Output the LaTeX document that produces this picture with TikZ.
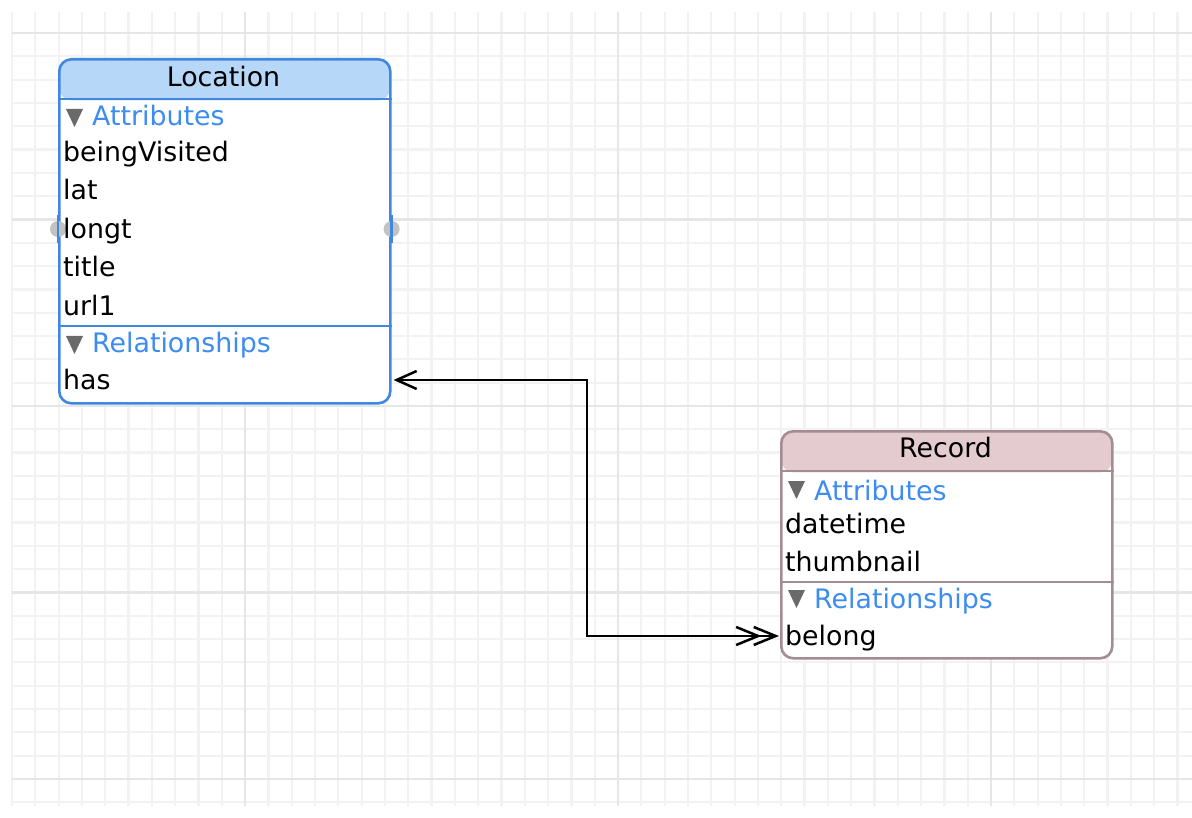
\documentclass[tikz,border=0pt]{standalone}
\usepackage{fontspec}
\setmainfont{DejaVu Sans}
\usetikzlibrary{arrows.meta}
\definecolor{gridminor}{HTML}{F2F2F2}
\definecolor{gridmajor}{HTML}{E6E6E6}
\definecolor{locborder}{HTML}{3F87DF}
\definecolor{lochead}{HTML}{B6D7F8}
\definecolor{recborder}{HTML}{A38C93}
\definecolor{rechead}{HTML}{E4CBD0}
\definecolor{sectext}{HTML}{3C8CF2}
\definecolor{trigray}{HTML}{6A6A6A}
\definecolor{handlegray}{HTML}{C2C2C2}
\begin{document}
\begin{tikzpicture}[x=1pt,y=-1pt,
  rowtext/.style={anchor=base west, inner sep=0pt, font=\fontsize{26.8}{30}\selectfont, text=black},
  sectitle/.style={rowtext, text=sectext},
  headtext/.style={anchor=base, inner sep=0pt, font=\fontsize{26.8}{30}\selectfont, text=black},
  entitybox/.style={draw=#1, fill=white, line width=2.6pt, rounded corners=12pt, inner sep=0pt, anchor=north west},
  sepline/.style={draw=#1, line width=2.4pt},
  tri/.style={fill=trigray},
  conn/.style={line width=2.5pt, black,
    {Straight Barb[length=20pt,width=18pt]}-{Straight Barb[length=22pt,width=18pt,sep=-9pt]Straight Barb[length=22pt,width=18pt]}}
]
\useasboundingbox (0,0) rectangle (1192,818);
\fill[white] (0,0) rectangle (1192,818);
% grid
\foreach \i in {0,...,50} {
  \pgfmathsetmacro\xx{12+23.31*\i}
  \draw[gridminor, line width=2.2pt] (\xx,12) -- (\xx,806);
}
\foreach \j in {0,...,33} {
  \pgfmathsetmacro\yy{33+23.31*\j}
  \draw[gridminor, line width=2.2pt] (12,\yy) -- (1192,\yy);
}
\foreach \i in {10,26,42} {
  \pgfmathsetmacro\xx{12+23.31*\i}
  \draw[gridmajor, line width=2.2pt] (\xx,12) -- (\xx,806);
}
\foreach \j in {0,8,16,24,32} {
  \pgfmathsetmacro\yy{33+23.31*\j}
  \draw[gridmajor, line width=2.2pt] (12,\yy) -- (1192,\yy);
}

% Location entity
\node[entitybox=locborder, minimum width=331pt, minimum height=344pt,
  path picture={\fill[lochead] (path picture bounding box.north west) rectangle ([yshift=-41pt]path picture bounding box.north east);}]
  (loc) at (58,58) {};
\draw[sepline=locborder] (loc.west |- 0,99) -- (loc.east |- 0,99);
\draw[sepline=locborder] (loc.west |- 0,326) -- (loc.east |- 0,326);
\fill[handlegray] (loc.west |- 0,229) circle (8pt);
\fill[handlegray] (loc.east |- 0,229) circle (8pt);
\draw[locborder, line width=2.6pt] (loc.north west |- 0,215) -- (loc.south west |- 0,243);
\draw[locborder, line width=2.6pt] (loc.north east |- 0,215) -- (loc.south east |- 0,243);
\node[headtext] (locTitle) at (223.5,87) {Location};
\fill[tri] (66,109) -- (83,109) -- (74.5,127) -- cycle;
\node[sectitle] (locAttr) at (92,126) {Attributes};
\node[rowtext] (locBeing) at (63,161.5) {beingVisited};
\node[rowtext] (locLat) at (63,200) {lat};
\node[rowtext] (locLongt) at (63,238.5) {longt};
\node[rowtext] (locTitleAttr) at (63,277) {title};
\node[rowtext] (locUrl) at (63,315.5) {url1};
\fill[tri] (66,336) -- (83,336) -- (74.5,354) -- cycle;
\node[sectitle] (locRel) at (92,353) {Relationships};
\node[rowtext] (locHas) at (63,390) {has};

% Record entity
\node[entitybox=recborder, minimum width=331pt, minimum height=227pt,
  path picture={\fill[rechead] (path picture bounding box.north west) rectangle ([yshift=-41pt]path picture bounding box.north east);}]
  (rec) at (780,430) {};
\draw[sepline=recborder] (rec.west |- 0,471) -- (rec.east |- 0,471);
\draw[sepline=recborder] (rec.west |- 0,582) -- (rec.east |- 0,582);
\node[headtext] (recTitle) at (945.5,457) {Record};
\fill[tri] (788,481) -- (805,481) -- (796.5,499) -- cycle;
\node[sectitle] (recAttr) at (814,500) {Attributes};
\node[rowtext] (recDatetime) at (785,533) {datetime};
\node[rowtext] (recThumb) at (785,571) {thumbnail};
\fill[tri] (788,590) -- (805,590) -- (796.5,608) -- cycle;
\node[sectitle] (recRel) at (814,608) {Relationships};
\node[rowtext] (recBelong) at (785,645) {belong};

% relationship connector
\coordinate (hasPort) at ([xshift=2pt]loc.east |- 0,380);
\coordinate (bend) at (587,380);
\coordinate (belongPort) at ([xshift=-1pt]rec.west |- 0,636);
\draw[conn] (hasPort) -- (bend) |- (belongPort);
\end{tikzpicture}
\end{document}
